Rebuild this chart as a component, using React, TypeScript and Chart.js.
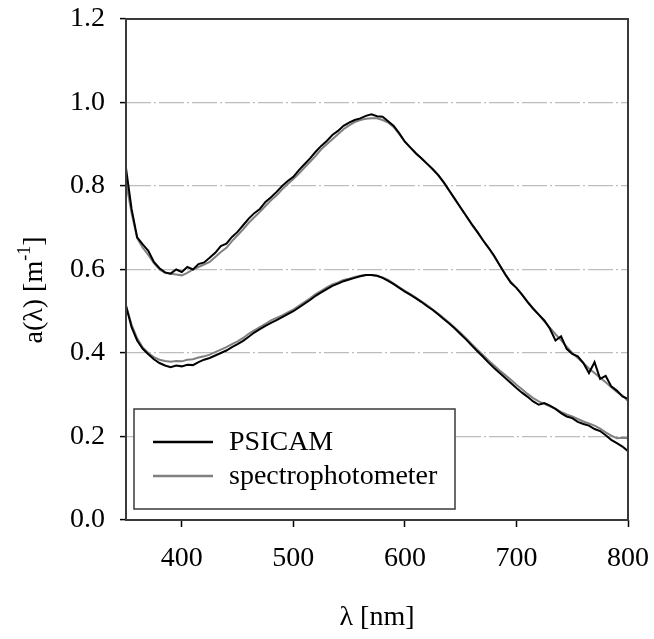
import React, { useEffect, useRef } from "react";
import { Chart, registerables } from "chart.js";

Chart.register(...registerables);

const wavelengths = [
  350, 355, 360, 365, 370, 375, 380, 385, 390, 395,
  400, 405, 410, 415, 420, 425, 430, 435, 440, 445,
  450, 455, 460, 465, 470, 475, 480, 485, 490, 495,
  500, 505, 510, 515, 520, 525, 530, 535, 540, 545,
  550, 555, 560, 565, 570, 575, 580, 585, 590, 595,
  600, 605, 610, 615, 620, 625, 630, 635, 640, 645,
  650, 655, 660, 665, 670, 675, 680, 685, 690, 695,
  700, 705, 710, 715, 720, 725, 730, 735, 740, 745,
  750, 755, 760, 765, 770, 775, 780, 785, 790, 795,
  800,
];

const psicamUpper = [
  0.843, 0.745, 0.677, 0.66, 0.645, 0.618, 0.603, 0.593, 0.59, 0.6,
  0.594, 0.606, 0.6, 0.613, 0.617, 0.628, 0.64, 0.656, 0.662, 0.678,
  0.69, 0.706, 0.722, 0.735, 0.745, 0.762, 0.773, 0.786, 0.8, 0.812,
  0.822, 0.838, 0.852, 0.866, 0.882, 0.896, 0.908, 0.922, 0.932, 0.944,
  0.952, 0.958, 0.962, 0.968, 0.972, 0.967, 0.966, 0.955, 0.944, 0.926,
  0.906, 0.892, 0.878, 0.866, 0.853, 0.84, 0.826, 0.808, 0.788, 0.768,
  0.748, 0.728, 0.708, 0.69, 0.67, 0.652, 0.633, 0.61, 0.588, 0.568,
  0.556, 0.54, 0.522, 0.506, 0.492, 0.478, 0.458, 0.43, 0.44, 0.41,
  0.398, 0.392, 0.376, 0.352, 0.378, 0.338, 0.345, 0.32, 0.31, 0.296,
  0.29,
];

const spectroUpper = [
  0.81, 0.735, 0.675, 0.652, 0.635, 0.615, 0.6, 0.592, 0.59, 0.588,
  0.586, 0.592, 0.6, 0.606, 0.612, 0.618, 0.63, 0.642, 0.652, 0.668,
  0.682, 0.696, 0.712, 0.725, 0.738, 0.752, 0.766, 0.778, 0.792, 0.805,
  0.817, 0.83, 0.844, 0.858, 0.872, 0.888, 0.9, 0.912, 0.924, 0.936,
  0.945, 0.953, 0.958, 0.961, 0.962, 0.962, 0.958, 0.952, 0.941, 0.924,
  0.906, 0.892, 0.878, 0.866, 0.853, 0.84, 0.825, 0.808, 0.788, 0.768,
  0.748, 0.728, 0.708, 0.689, 0.67, 0.652, 0.631, 0.61, 0.589, 0.57,
  0.556, 0.54, 0.523, 0.507, 0.492, 0.476, 0.461, 0.445, 0.431, 0.415,
  0.4, 0.388, 0.376, 0.363, 0.352, 0.341, 0.33, 0.318, 0.307, 0.298,
  0.285,
];

const psicamLower = [
  0.513, 0.462, 0.43, 0.41, 0.397, 0.385, 0.376, 0.37, 0.366, 0.37,
  0.368, 0.372, 0.371, 0.378, 0.384, 0.388, 0.394, 0.4, 0.406, 0.414,
  0.421, 0.429, 0.439, 0.449, 0.457, 0.465, 0.472, 0.479, 0.486, 0.493,
  0.5, 0.509, 0.518, 0.527, 0.537, 0.545, 0.553, 0.561, 0.566, 0.572,
  0.576, 0.58, 0.584, 0.587, 0.587, 0.585, 0.58, 0.573, 0.565, 0.556,
  0.547, 0.539, 0.531, 0.522, 0.512, 0.503, 0.492, 0.481, 0.47, 0.458,
  0.445, 0.432, 0.418, 0.404, 0.391, 0.377, 0.364, 0.352, 0.34, 0.328,
  0.316, 0.305, 0.295, 0.284, 0.276, 0.28, 0.274, 0.266, 0.256, 0.248,
  0.244, 0.235, 0.23, 0.226, 0.218, 0.213, 0.203, 0.192, 0.184, 0.176,
  0.165,
];

const spectroLower = [
  0.513, 0.468, 0.435, 0.413, 0.4, 0.39, 0.384, 0.381, 0.379, 0.381,
  0.38, 0.384, 0.385, 0.389, 0.392, 0.396, 0.402, 0.408, 0.414, 0.421,
  0.428, 0.436, 0.446, 0.454, 0.462, 0.47, 0.478, 0.484, 0.49, 0.497,
  0.504, 0.513, 0.522, 0.531, 0.541, 0.549, 0.557, 0.564, 0.569, 0.575,
  0.578, 0.582, 0.585, 0.587, 0.587, 0.585, 0.581, 0.575, 0.566, 0.557,
  0.549, 0.541, 0.532, 0.523, 0.514, 0.504, 0.494, 0.483, 0.472, 0.46,
  0.448, 0.435, 0.421, 0.408, 0.395, 0.382, 0.37, 0.358, 0.347, 0.336,
  0.324, 0.313, 0.302, 0.292, 0.284, 0.278, 0.272, 0.266, 0.259, 0.253,
  0.248, 0.242, 0.236, 0.231, 0.226, 0.219, 0.21, 0.202, 0.196, 0.197,
  0.196,
];

const seriesNames = ["PSICAM", "spectrophotometer"];
const seriesColors = ["#000000", "#808080"];

const xTicks = [400, 500, 600, 700, 800];
const xTickLabels = ["400", "500", "600", "700", "800"];
const yTicks = [0, 0.2, 0.4, 0.6, 0.8, 1.0, 1.2];
const yTickLabels = ["0.0", "0.2", "0.4", "0.6", "0.8", "1.0", "1.2"];

const xTitle = "λ [nm]";
const yTitleMain = "a(λ) [m";
const yTitleSup = "-1";
const yTitleEnd = "]";

const FONT = "'Liberation Serif', 'Times New Roman', serif";
const W = 654;
const H = 639;

function toPoints(values: number[]) {
  return values.map((v, i) => ({ x: wavelengths[i], y: v }));
}

export default function App() {
  const canvasRef = useRef<HTMLCanvasElement | null>(null);

  useEffect(() => {
    const canvas = canvasRef.current;
    if (!canvas) return;

    const decorPlugin = {
      id: "decor",
      afterDraw(chart: any) {
        const { ctx, chartArea } = chart;
        const { left, right, top, bottom } = chartArea;
        ctx.save();
        // frame
        ctx.strokeStyle = "#3a3a3a";
        ctx.lineWidth = 2;
        ctx.setLineDash([]);
        ctx.strokeRect(left, top, right - left, bottom - top);

        // legend
        const lx = 134, ly = 409, lw = 321, lh = 100;
        ctx.fillStyle = "#ffffff";
        ctx.fillRect(lx, ly, lw, lh);
        ctx.strokeStyle = "#3a3a3a";
        ctx.lineWidth = 1.5;
        ctx.strokeRect(lx, ly, lw, lh);
        const rows = [442, 476];
        ctx.font = `28px ${FONT}`;
        ctx.textBaseline = "middle";
        ctx.textAlign = "left";
        seriesNames.forEach((name, i) => {
          ctx.strokeStyle = seriesColors[i];
          ctx.lineWidth = 2.5;
          ctx.beginPath();
          ctx.moveTo(153, rows[i]);
          ctx.lineTo(213, rows[i]);
          ctx.stroke();
          ctx.fillStyle = "#000";
          ctx.fillText(name, 229, rows[i] + 1);
        });

        // x title
        ctx.fillStyle = "#000";
        ctx.textAlign = "center";
        ctx.textBaseline = "middle";
        ctx.font = `28px ${FONT}`;
        ctx.fillText(xTitle, (left + right) / 2, 618);

        // y title with superscript
        ctx.save();
        ctx.translate(33, 290);
        ctx.rotate(-Math.PI / 2);
        ctx.font = `28px ${FONT}`;
        const w1 = ctx.measureText(yTitleMain).width;
        const w3 = ctx.measureText(yTitleEnd).width;
        ctx.font = `18px ${FONT}`;
        const w2 = ctx.measureText(yTitleSup).width;
        const total = w1 + w2 + w3;
        const x0 = -total / 2;
        ctx.textAlign = "left";
        ctx.textBaseline = "alphabetic";
        ctx.font = `28px ${FONT}`;
        ctx.fillText(yTitleMain, x0, 9);
        ctx.font = `18px ${FONT}`;
        ctx.fillText(yTitleSup, x0 + w1, -3);
        ctx.font = `28px ${FONT}`;
        ctx.fillText(yTitleEnd, x0 + w1 + w2, 9);
        ctx.restore();

        ctx.restore();
      },
    };

    const chart = new Chart(canvas, {
      type: "line",
      data: {
        datasets: [
          {
            label: seriesNames[0],
            data: toPoints(psicamUpper),
            borderColor: seriesColors[0],
            borderWidth: 2,
            pointRadius: 0,
            tension: 0,
          },
          {
            label: seriesNames[0],
            data: toPoints(psicamLower),
            borderColor: seriesColors[0],
            borderWidth: 2,
            pointRadius: 0,
            tension: 0,
          },
          {
            label: seriesNames[1],
            data: toPoints(spectroUpper),
            borderColor: seriesColors[1],
            borderWidth: 2,
            pointRadius: 0,
            tension: 0,
          },
          {
            label: seriesNames[1],
            data: toPoints(spectroLower),
            borderColor: seriesColors[1],
            borderWidth: 2,
            pointRadius: 0,
            tension: 0,
          },
        ],
      },
      options: {
        responsive: false,
        animation: false,
        events: [],
        layout: { padding: { top: 19, right: 26, left: 0, bottom: 0 } },
        plugins: {
          legend: { display: false },
          tooltip: { enabled: false },
          title: { display: false },
        },
        scales: {
          x: {
            type: "linear",
            min: 350,
            max: 800,
            afterBuildTicks: (scale: any) => {
              scale.ticks = xTicks.map((v) => ({ value: v }));
            },
            afterFit: (scale: any) => {
              scale.height = 119;
              scale.paddingLeft = 0;
              scale.paddingRight = 0;
            },
            border: { display: false },
            grid: {
              drawOnChartArea: false,
              drawTicks: true,
              tickLength: 7,
              tickColor: "#000",
              tickWidth: 1.5,
            },
            ticks: {
              color: "#000",
              font: { family: FONT, size: 28 },
              padding: 15,
              maxRotation: 0,
              autoSkip: false,
              callback: (v: any) => {
                const i = xTicks.indexOf(Number(v));
                return i >= 0 ? xTickLabels[i] : "";
              },
            },
          },
          y: {
            type: "linear",
            min: 0,
            max: 1.2,
            afterBuildTicks: (scale: any) => {
              scale.ticks = yTicks.map((v) => ({ value: v }));
            },
            afterFit: (scale: any) => {
              scale.width = 126;
              scale.paddingTop = 0;
              scale.paddingBottom = 0;
            },
            border: { display: false, dash: [25, 3, 2, 3] },
            grid: {
              color: (ctx: any) => {
                const v = ctx.tick ? ctx.tick.value : null;
                if (v === 0 || v === 1.2) return "rgba(0,0,0,0)";
                return "#bdbdbd";
              },
              lineWidth: 1.2,
              drawTicks: true,
              tickLength: 6,
              tickColor: "#000",
              tickWidth: 1.5,
              tickBorderDash: [],
            },
            ticks: {
              color: "#000",
              font: { family: FONT, size: 28 },
              padding: 15,
              autoSkip: false,
              callback: (v: any) => {
                const i = yTicks.findIndex((t) => Math.abs(t - Number(v)) < 1e-9);
                return i >= 0 ? yTickLabels[i] : "";
              },
            },
          },
        },
      },
      plugins: [decorPlugin],
    } as any);

    return () => {
      chart.destroy();
    };
  }, []);

  return (
    <div style={{ position: "absolute", left: 0, top: 0, width: W, height: H, background: "#fff" }}>
      <canvas ref={canvasRef} width={W} height={H} style={{ width: W, height: H, display: "block" }} />
    </div>
  );
}
